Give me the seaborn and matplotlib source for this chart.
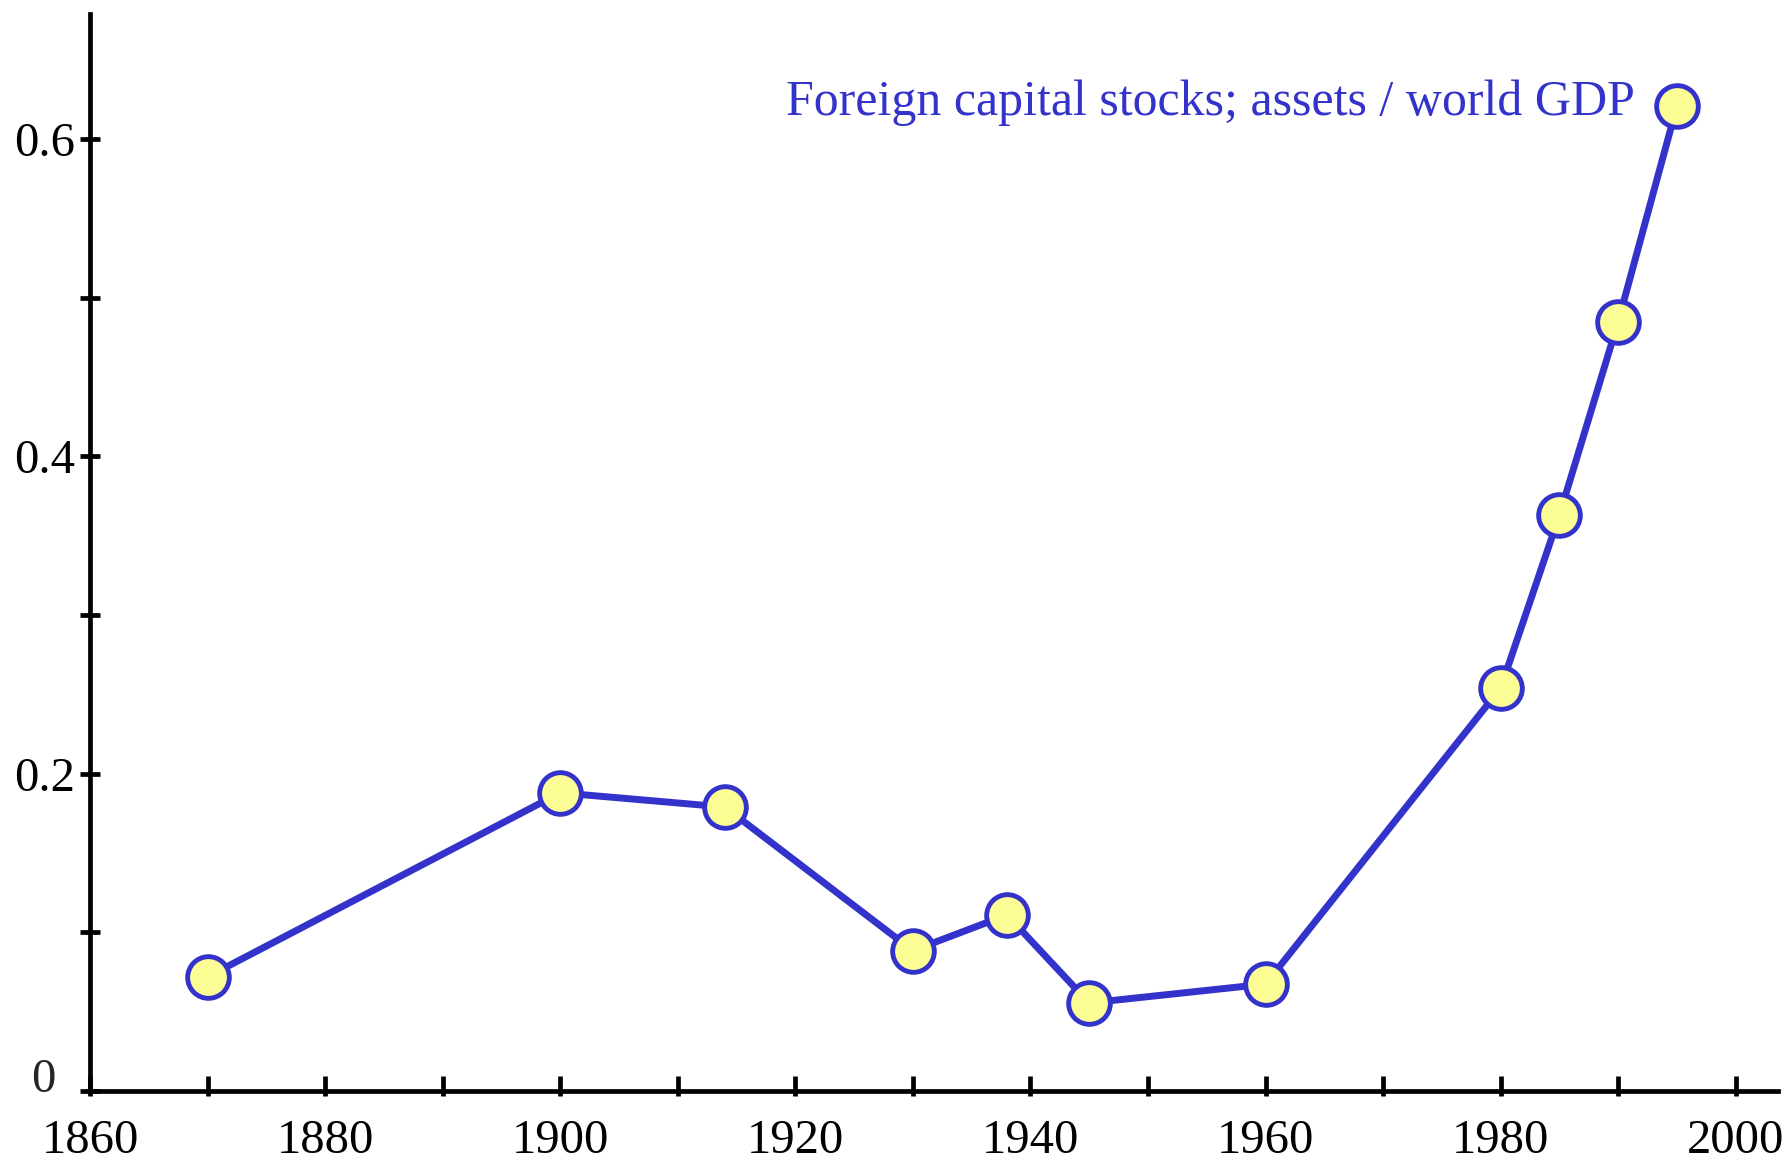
import matplotlib
matplotlib.use("Agg")
import matplotlib.pyplot as plt
import matplotlib.ticker as mticker
import pandas as pd
import seaborn as sns

# foreign capital stocks, assets / world GDP
years = [1870, 1900, 1914, 1930, 1938, 1945, 1960, 1980, 1985, 1990, 1995]
ratio = [0.072, 0.188, 0.179, 0.0885, 0.111, 0.0555, 0.0674, 0.254, 0.363, 0.485, 0.621]
series_label = "Foreign capital stocks; assets / world GDP"

x_tick_labels = [1860, 1880, 1900, 1920, 1940, 1960, 1980, 2000]
y_major = [0, 0.2, 0.4, 0.6]
y_minor = [0.1, 0.3, 0.5]

blue = "#3333cc"
yellow = "#fdfd96"

sns.set_style("white")
plt.rcParams['font.family'] = ['Liberation Serif', 'DejaVu Serif']

df = pd.DataFrame({"year": years, "ratio": ratio})

fig = plt.figure(figsize=(17.87, 11.61), dpi=100)
ax = fig.add_axes([0.0504, 0.0603, 0.9446, 0.9277])

sns.lineplot(data=df, x="year", y="ratio", ax=ax, color=blue, linewidth=5,
             marker="o", markersize=30, markerfacecolor=yellow,
             markeredgecolor=blue, markeredgewidth=3.5)

ax.set_xlim(1860, 2003.6)
ax.set_ylim(0, 0.679)
ax.set_xlabel("")
ax.set_ylabel("")

# only left and bottom axis lines
for side in ["top", "right"]:
    ax.spines[side].set_visible(False)
for side in ["left", "bottom"]:
    ax.spines[side].set_color("black")
    ax.spines[side].set_linewidth(3.4)

# x ticks every 10 years, labels every 20; ticks stick up more than down
ax.xaxis.remove_overlapping_locs = False
ax.xaxis.set_major_locator(mticker.MultipleLocator(10))
ax.xaxis.set_minor_locator(mticker.MultipleLocator(10))
ax.xaxis.set_major_formatter(mticker.FuncFormatter(
    lambda v, p: str(int(round(v))) if int(round(v)) in x_tick_labels else ""))
ax.tick_params(axis="x", which="major", bottom=True, direction="in", length=10.8,
               width=3.4, labelsize=35, pad=20, colors="black")
ax.tick_params(axis="x", which="minor", bottom=True, direction="out", length=3.6,
               width=3.4, colors="black")

ax.yaxis.set_major_locator(mticker.FixedLocator(y_major))
ax.yaxis.set_minor_locator(mticker.FixedLocator(y_minor))
ax.yaxis.set_major_formatter(mticker.FuncFormatter(lambda v, p: "" if v == 0 else f"{v:.1f}"))
ax.tick_params(axis="y", which="both", left=True, direction="inout", length=15,
               width=3.4, labelsize=35, pad=3, colors="black")

# the zero label sits a little above and left of the corner
ax.annotate("0", xy=(0, 0), xycoords="axes fraction", xytext=(-25, 8),
            textcoords="offset points", ha="right", va="center", fontsize=35)

ax.text(1991.4, 0.615, series_label, color=blue, fontsize=36,
        ha="right", va="baseline")

fig.savefig("out.png", dpi=100)
